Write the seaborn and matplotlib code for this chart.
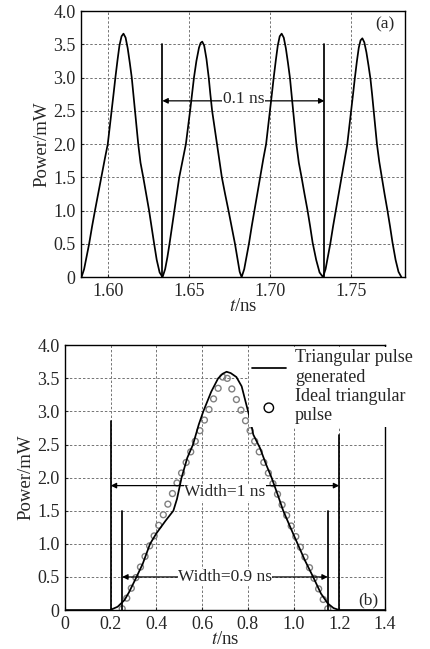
import numpy as np
import pandas as pd
import matplotlib
matplotlib.use('Agg')
import matplotlib.pyplot as plt
import seaborn as sns

# (a) periodic output pulses
t_a = [1.5836, 1.5852, 1.5868, 1.5883, 1.5901, 1.5919, 1.5940, 1.5960, 1.5980, 1.5998, 1.6010, 1.6022,
       1.6034, 1.6045, 1.6058, 1.6070, 1.6083, 1.6095, 1.6108, 1.6121, 1.6134, 1.6146, 1.6156, 1.6166,
       1.6176, 1.6186, 1.6200, 1.6217, 1.6235, 1.6253, 1.6268, 1.6283, 1.6300, 1.6318, 1.6336,
       1.6352, 1.6366, 1.6379, 1.6394, 1.6409, 1.6424, 1.6439, 1.6460, 1.6480, 1.6493, 1.6506, 1.6518,
       1.6530, 1.6545, 1.6561, 1.6571, 1.6581, 1.6593, 1.6607, 1.6621, 1.6631, 1.6642, 1.6657, 1.6672,
       1.6687, 1.6702, 1.6722, 1.6743, 1.6763, 1.6783, 1.6800, 1.6812, 1.6824,
       1.6840, 1.6855, 1.6869, 1.6886, 1.6903, 1.6922, 1.6940, 1.6958, 1.6975, 1.6987, 1.6999, 1.7011,
       1.7022, 1.7035, 1.7047, 1.7059, 1.7071, 1.7084, 1.7097, 1.7110, 1.7122, 1.7132, 1.7142, 1.7152,
       1.7162, 1.7177, 1.7194, 1.7212, 1.7231, 1.7247, 1.7262, 1.7284, 1.7305, 1.7326,
       1.7342, 1.7357, 1.7371, 1.7388, 1.7405, 1.7424, 1.7442, 1.7460, 1.7476, 1.7488, 1.7500, 1.7512,
       1.7523, 1.7535, 1.7547, 1.7558, 1.7569, 1.7581, 1.7594, 1.7607, 1.7619, 1.7629, 1.7639, 1.7649,
       1.7659, 1.7673, 1.7689, 1.7706, 1.7724, 1.7740, 1.7755, 1.7774, 1.7792, 1.7810]
p_a = [0.00, 0.12, 0.32, 0.50, 0.76, 1.00, 1.27, 1.52, 1.78, 2.00, 2.25, 2.50,
       2.76, 3.00, 3.26, 3.48, 3.62, 3.66, 3.60, 3.44, 3.22, 3.00, 2.75, 2.50,
       2.25, 2.00, 1.72, 1.50, 1.25, 1.00, 0.76, 0.52, 0.26, 0.07, 0.00,
       0.12, 0.30, 0.50, 0.75, 1.00, 1.25, 1.50, 1.76, 2.00, 2.25, 2.50, 2.75,
       3.00, 3.25, 3.45, 3.52, 3.54, 3.48, 3.28, 3.00, 2.75, 2.50, 2.25, 2.00,
       1.74, 1.50, 1.25, 1.00, 0.75, 0.50, 0.25, 0.08, 0.00,
       0.12, 0.32, 0.50, 0.76, 1.00, 1.27, 1.52, 1.78, 2.00, 2.25, 2.50, 2.76,
       3.00, 3.26, 3.48, 3.62, 3.66, 3.60, 3.44, 3.22, 3.00, 2.75, 2.50, 2.25,
       2.00, 1.72, 1.50, 1.25, 1.00, 0.76, 0.52, 0.26, 0.07, 0.00,
       0.12, 0.32, 0.50, 0.76, 1.00, 1.27, 1.52, 1.78, 2.00, 2.25, 2.50, 2.76,
       3.00, 3.24, 3.45, 3.56, 3.59, 3.53, 3.38, 3.18, 2.98, 2.75, 2.50, 2.25,
       2.00, 1.74, 1.50, 1.25, 1.00, 0.76, 0.52, 0.26, 0.08, 0.00]

# (b) generated pulse
t_gen = [0.0, 0.197, 0.23, 0.26, 0.28, 0.31, 0.34, 0.372, 0.40, 0.44, 0.474, 0.49, 0.51, 0.535, 0.56,
         0.585, 0.605, 0.64, 0.67, 0.69, 0.707, 0.725, 0.75, 0.773, 0.79, 0.805, 0.815, 0.824, 0.853,
         0.88, 0.904, 0.93, 0.955, 0.99, 1.018, 1.05, 1.086, 1.12, 1.15, 1.175, 1.2, 1.4]
p_gen = [0.0, 0.0, 0.05, 0.15, 0.27, 0.48, 0.70, 1.00, 1.16, 1.35, 1.50, 1.68, 2.00, 2.30, 2.50,
         2.80, 3.00, 3.30, 3.50, 3.57, 3.60, 3.58, 3.52, 3.38, 3.15, 2.95, 2.80, 2.65, 2.45,
         2.20, 2.00, 1.75, 1.50, 1.22, 1.00, 0.75, 0.50, 0.25, 0.10, 0.03, 0.0, 0.0]

# (b) ideal triangular pulse (circles)
t_ideal = [0.25, 0.27, 0.29, 0.31, 0.33, 0.35, 0.37, 0.39, 0.41, 0.43, 0.45, 0.47, 0.49, 0.51, 0.53,
           0.55, 0.57, 0.59, 0.61, 0.63, 0.65, 0.67, 0.69, 0.71, 0.73, 0.75, 0.77, 0.79, 0.81, 0.83,
           0.85, 0.87, 0.89, 0.91, 0.93, 0.95, 0.97, 0.99, 1.01, 1.03, 1.05, 1.07, 1.09, 1.11, 1.13, 1.15]
p_ideal = [0.02, 0.18, 0.33, 0.49, 0.65, 0.81, 0.97, 1.12, 1.28, 1.44, 1.60, 1.76, 1.92, 2.07, 2.23,
           2.39, 2.55, 2.71, 2.87, 3.03, 3.19, 3.35, 3.52, 3.50, 3.34, 3.18, 3.02, 2.86, 2.71, 2.55,
           2.39, 2.23, 2.07, 1.91, 1.75, 1.59, 1.43, 1.27, 1.11, 0.95, 0.80, 0.64, 0.48, 0.32, 0.16, 0.02]

df_a = pd.DataFrame({'t': t_a, 'p': p_a})
df_gen = pd.DataFrame({'t': t_gen, 'p': p_gen})
df_ideal = pd.DataFrame({'t': t_ideal, 'p': p_ideal})

sns.set_style("ticks")
plt.rcParams['font.family'] = ['Liberation Serif', 'DejaVu Serif']
plt.rcParams['mathtext.fontset'] = 'stix'

fig = plt.figure(figsize=(4.31, 6.49), dpi=100)
ax1 = fig.add_axes([0.188, 0.573, 0.752, 0.410])
ax2 = fig.add_axes([0.151, 0.060, 0.742, 0.408])

fs_tick = 13
fs_lab = 13.5
fs_txt = 12.5
grid_kw = dict(color='0.45', linestyle=(0, (2.5, 2)), linewidth=0.7)


def arrow(ax, x1, x2, y, label, ty):
    ax.annotate('', xy=(x1, y), xytext=(x2, y),
                arrowprops=dict(arrowstyle='<|-|>', color='black', lw=0.9,
                                mutation_scale=8, shrinkA=0, shrinkB=0))
    ax.text((x1 + x2) / 2, ty, label, ha='center', va='center', fontsize=fs_txt,
            bbox=dict(facecolor='white', edgecolor='none', pad=0.3))


# ---- (a)
sns.lineplot(data=df_a, x='t', y='p', ax=ax1, color='black', lw=1.25, sort=False)
ax1.set_xlim(1.5833, 1.7833)
ax1.set_ylim(0, 4)
ax1.set_xticks([1.60, 1.65, 1.70, 1.75])
ax1.set_xticklabels(['1.60', '1.65', '1.70', '1.75'])
ax1.set_yticks(np.arange(0, 4.01, 0.5))
ax1.set_yticklabels(['0', '0.5', '1.0', '1.5', '2.0', '2.5', '3.0', '3.5', '4.0'])
ax1.grid(True, **grid_kw)
for xv in [1.6335, 1.7335]:
    ax1.plot([xv, xv], [0, 3.5], color='black', lw=1.25)
arrow(ax1, 1.6335, 1.7335, 2.65, '0.1 ns', 2.68)
ax1.text(1.777, 3.8, '(a)', ha='right', va='center', fontsize=fs_txt)
ax1.set_xlabel('$t$/ns', fontsize=fs_lab, labelpad=-1)
ax1.set_ylabel('Power/mW', fontsize=fs_lab, labelpad=2)

# ---- (b)
sns.lineplot(data=df_gen, x='t', y='p', ax=ax2, color='black', lw=1.25, sort=False,
             label='Triangular pulse\ngenerated')
sns.scatterplot(data=df_ideal, x='t', y='p', ax=ax2, s=18, marker='o', facecolors='none',
                edgecolors='0.5', linewidths=1.0, label='Ideal triangular\npulse')
ax2.set_xlim(0, 1.4)
ax2.set_ylim(0, 4)
ax2.set_xticks(np.arange(0, 1.41, 0.2))
ax2.set_xticklabels(['0', '0.2', '0.4', '0.6', '0.8', '1.0', '1.2', '1.4'])
ax2.set_yticks(np.arange(0, 4.01, 0.5))
ax2.set_yticklabels(['0', '0.5', '1.0', '1.5', '2.0', '2.5', '3.0', '3.5', '4.0'])
ax2.grid(True, **grid_kw)
ax2.plot([0.2, 0.2], [0, 2.85], color='black', lw=1.25)
ax2.plot([1.2, 1.2], [0, 2.65], color='black', lw=1.25)
ax2.plot([0.25, 0.25], [0, 1.5], color='black', lw=1.25)
ax2.plot([1.15, 1.15], [0, 1.5], color='black', lw=1.25)
arrow(ax2, 0.2, 1.2, 1.88, 'Width=1 ns', 1.78)
arrow(ax2, 0.25, 1.15, 0.5, 'Width=0.9 ns', 0.5)
ax2.text(1.37, 0.15, '(b)', ha='right', va='center', fontsize=fs_txt)
ax2.set_xlabel('$t$/ns', fontsize=fs_lab, labelpad=-1)
ax2.set_ylabel('Power/mW', fontsize=fs_lab, labelpad=2)
leg = ax2.legend(loc='upper left', bbox_to_anchor=(0.575, 0.995), fontsize=13,
                 frameon=True, fancybox=False, framealpha=1, borderpad=0.15,
                 handlelength=1.9, handletextpad=0.5, labelspacing=0.1, borderaxespad=0,
                 markerscale=1.6)
leg.get_frame().set_facecolor('white')
leg.get_frame().set_edgecolor('none')
for h in leg.legend_handles[1:]:
    h.set_edgecolor('black')

for ax in (ax1, ax2):
    ax.tick_params(direction='in', length=2, width=0.8, labelsize=fs_tick, pad=4)
    for s in ax.spines.values():
        s.set_linewidth(1.0)
        s.set_color('black')

fig.savefig('out.png', dpi=100)
